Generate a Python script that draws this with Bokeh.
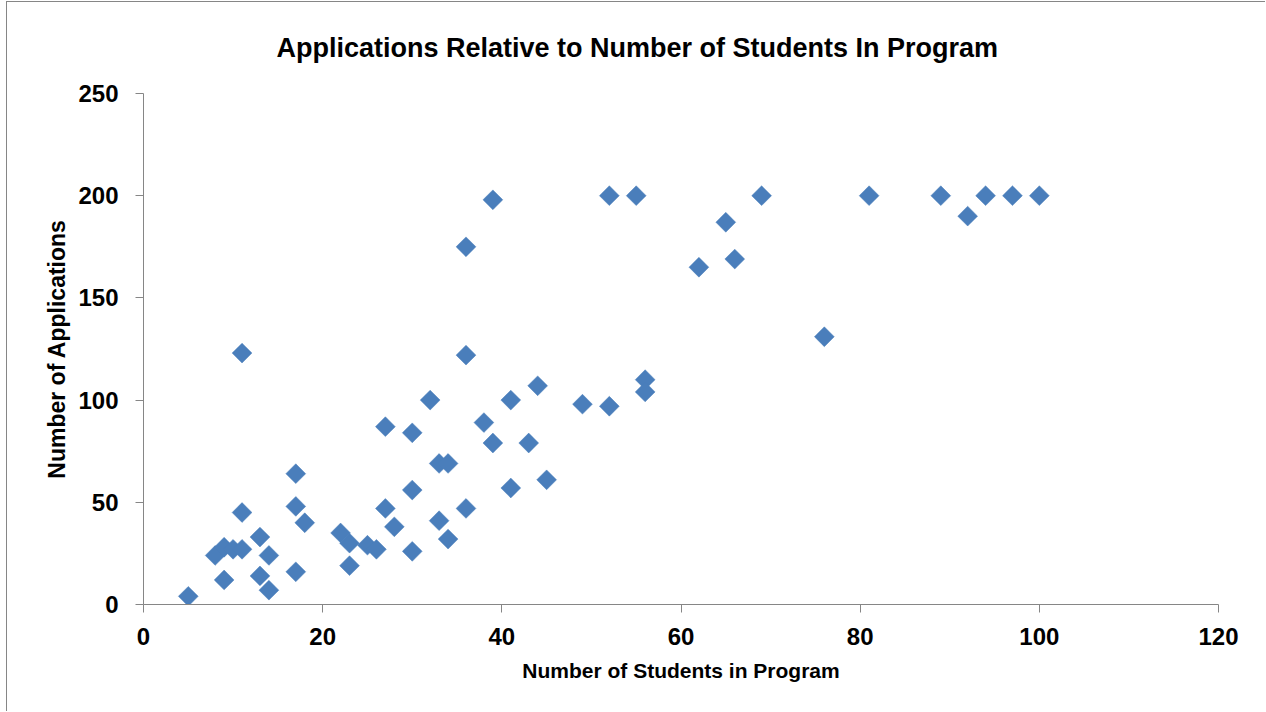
from bokeh.plotting import figure
from bokeh.models import Range1d, FixedTicker, ColumnDataSource
from bokeh.embed import file_html
from bokeh.resources import INLINE
import math

# Program size vs. number of applications received
students = [5, 8, 9, 10, 11, 9, 11, 11, 13, 13, 14, 14, 17, 17, 17, 18, 22, 23, 23, 25,
            26, 27, 27, 28, 30, 30, 30, 32, 33, 33, 34, 34, 36, 36, 36, 38, 39, 39, 41, 41,
            43, 44, 45, 49, 52, 52, 55, 56, 56, 62, 65, 66, 69, 76, 81, 89, 92, 94, 97, 100]
applications = [4, 24, 28, 27, 27, 12, 45, 123, 33, 14, 24, 7, 64, 48, 16, 40, 35, 30, 19, 29,
                27, 87, 47, 38, 84, 56, 26, 100, 69, 41, 69, 32, 175, 122, 47, 89, 198, 79, 100, 57,
                79, 107, 61, 98, 200, 97, 200, 110, 104, 165, 187, 169, 200, 131, 200, 200, 190, 200, 200, 200]

x_ticks = [0, 20, 40, 60, 80, 100, 120]
y_ticks = [0, 50, 100, 150, 200, 250]

title_text = "Applications Relative to Number of Students In Program"
x_label = "Number of Students in Program"
y_label = "Number of Applications"

FONT = "Liberation Sans"
AXIS_GREY = "#868686"
MARKER_BLUE = "#4A7EBB"

source = ColumnDataSource(data=dict(students=students, applications=applications))

p = figure(
    width=1259, height=710,
    output_backend="svg", toolbar_location=None,
    x_range=Range1d(x_ticks[0], x_ticks[-1]),
    y_range=Range1d(y_ticks[0], y_ticks[-1]),
    min_border_left=136, min_border_right=48,
    min_border_top=91, min_border_bottom=108,
    background_fill_color="white", border_fill_color="white",
)
p.styles = {
    "margin-left": "6px",
    "margin-top": "1px",
    "border-left": "1px solid #868686",
    "border-top": "1px solid #868686",
}

p.outline_line_color = None
p.grid.grid_line_color = None

# title, anchored to the top of its panel
p.title.text = title_text
p.title.text_font = FONT
p.title.text_font_style = "bold"
p.title.text_font_size = "27px"
p.title.text_color = "black"
p.title.align = "left"
p.title.vertical_align = "top"
p.title.offset = 133
p.title.standoff = 58

for ax in (p.xaxis[0], p.yaxis[0]):
    ax.axis_line_color = AXIS_GREY
    ax.axis_line_width = 1
    ax.major_tick_line_color = AXIS_GREY
    ax.major_tick_line_width = 1
    ax.major_tick_in = 0
    ax.major_tick_out = 8
    ax.minor_tick_line_color = None
    ax.major_label_text_font = FONT
    ax.major_label_text_font_style = "bold"
    ax.major_label_text_font_size = "24px"
    ax.major_label_text_color = "black"
    ax.axis_label_text_font = FONT
    ax.axis_label_text_font_style = "bold"
    ax.axis_label_text_color = "black"

p.xaxis.ticker = FixedTicker(ticks=x_ticks)
p.yaxis.ticker = FixedTicker(ticks=y_ticks)
p.xaxis.axis_label = x_label
p.yaxis.axis_label = y_label
p.xaxis.axis_label_text_font_size = "21px"
p.yaxis.axis_label_text_font_size = "23px"
p.xaxis.major_label_standoff = 15
p.yaxis.major_label_standoff = 17
p.xaxis.axis_label_standoff = 11
p.yaxis.axis_label_standoff = 5

# rotated squares give the diamond markers
p.scatter(x="students", y="applications", source=source, marker="square",
          size=14, angle=math.pi / 4,
          fill_color=MARKER_BLUE, line_color=MARKER_BLUE, line_width=0.5)

open("out.html", "w").write(file_html(p, INLINE))
